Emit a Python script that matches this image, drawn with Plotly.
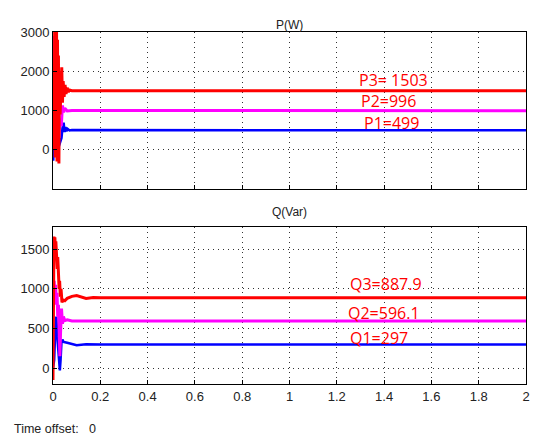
import plotly.graph_objects as go

# ---- data ----
t_p3 = [0, 0.003, 0.005, 0.007, 0.009, 0.011, 0.013, 0.015, 0.017, 0.019, 0.021, 0.023, 0.025,
        0.027, 0.030, 0.033, 0.037, 0.040, 0.043, 0.047, 0.051, 0.055, 0.060, 0.065, 0.070, 0.080, 2.0]
p3 = [0, 2000, 0, 3000, -200, 3000, 600, 3000, -300, 2800, 300, 2400, -350, 2000, 900,
      1800, 2100, 1200, 1750, 1350, 1650, 1420, 1580, 1470, 1520, 1503, 1503]

t_p2 = [0, 0.002, 0.004, 0.006, 0.009, 0.012, 0.016, 0.020, 0.025, 0.030, 0.035, 0.040,
        0.045, 0.050, 0.060, 0.080, 2.0]
p2 = [0, 2900, 1500, 2800, 0, 1200, 400, 1000, 300, 800, 600, 1130, 950, 1060, 990, 1000, 996]

t_p1 = [0, 0.001, 0.003, 0.006, 0.010, 0.020, 0.030, 0.036, 0.040, 0.045, 0.049, 0.053,
        0.057, 0.062, 0.070, 0.080, 2.0]
p1 = [0, -280, 0, 0, 50, 0, 200, 300, 550, 690, 450, 580, 470, 530, 490, 500, 499]

t_q3 = [0, 0.004, 0.006, 0.008, 0.010, 0.012, 0.014, 0.016, 0.018, 0.020, 0.022, 0.024,
        0.026, 0.028, 0.031, 0.034, 0.038, 0.042, 0.050, 0.060, 0.080, 0.100, 0.120,
        0.140, 0.170, 0.200, 2.0]
q3 = [-150, 1660, 1550, 1650, 1450, 1600, 1400, 1500, 1250, 1400, 1150, 1250, 1000, 1100,
      900, 1000, 830, 860, 850, 880, 905, 915, 900, 880, 890, 888, 888]

t_q2 = [0.005, 0.008, 0.011, 0.014, 0.017, 0.020, 0.023, 0.026, 0.029, 0.032, 0.036,
        0.040, 0.044, 0.050, 0.060, 0.080, 2.0]
q2 = [1100, 850, 1050, 800, 950, 650, 800, 400, 150, 450, 750, 560, 650, 600, 610, 595, 596]

t_q1 = [0, 0.005, 0.010, 0.014, 0.018, 0.022, 0.026, 0.029, 0.032, 0.036, 0.040,
        0.045, 0.060, 0.100, 0.140, 0.200, 2.0]
q1 = [0, 100, 500, 650, 400, 200, 0, -30, 100, 330, 360, 330, 320, 290, 300, 297, 297]

p_labels = ["P3= 1503", "P2=996", "P1=499"]
p_label_pos = [1770, 1230, 680]
q_labels = ["Q3=887.9", "Q2=596.1", "Q1=297"]
q_label_pos = [1055, 700, 385]

x_ticks = [0, 0.2, 0.4, 0.6, 0.8, 1.0, 1.2, 1.4, 1.6, 1.8, 2.0]
x_tick_text = ["0", "0.2", "0.4", "0.6", "0.8", "1", "1.2", "1.4", "1.6", "1.8", "2"]
p_ticks = [0, 1000, 2000, 3000]
q_ticks = [0, 500, 1000, 1500]

BLUE, MAG, RED = "#0000ff", "#ff00ff", "#ff0000"

fig = go.Figure()
for tx, ty, c, w, xa, ya in [
    (t_p1, p1, BLUE, 2.5, "x", "y"),
    (t_p2, p2, MAG, 3, "x", "y"),
    (t_p3, p3, RED, 3, "x", "y"),
    (t_q1, q1, BLUE, 2.5, "x2", "y2"),
    (t_q2, q2, MAG, 3, "x2", "y2"),
    (t_q3, q3, RED, 3, "x2", "y2"),
]:
    fig.add_trace(go.Scatter(x=tx, y=ty, mode="lines", line=dict(color=c, width=w),
                             xaxis=xa, yaxis=ya, showlegend=False, hoverinfo="skip"))

tick_font = dict(family="Liberation Sans, Arial, sans-serif", size=13, color="#222")
common_x = dict(range=[0, 2], tickvals=x_ticks, ticktext=x_tick_text, showline=True,
                linecolor="black", linewidth=1, mirror=True, ticks="inside", ticklen=4,
                tickcolor="black", showgrid=True, gridcolor="#333", griddash="1px,4px",
                gridwidth=1, zeroline=False, tickfont=tick_font, ticklabeloverflow="allow")
common_y = dict(showline=True, linecolor="black", linewidth=1, mirror=True, ticks="inside",
                ticklen=4, tickcolor="black", showgrid=True, gridcolor="#333",
                griddash="1px,4px", gridwidth=1, zeroline=False, tickfont=tick_font)

fig.update_layout(
    width=533, height=437,
    margin=dict(l=53, r=3, t=32, b=53),
    paper_bgcolor="white", plot_bgcolor="white",
    xaxis=dict(common_x, domain=[0, 1], anchor="y", showticklabels=False),
    yaxis=dict(common_y, domain=[0.554, 1], range=[-1000, 3000], tickvals=p_ticks, anchor="x"),
    xaxis2=dict(common_x, domain=[0, 1], anchor="y2"),
    yaxis2=dict(common_y, domain=[0, 0.446], range=[-200, 1780], tickvals=q_ticks, anchor="x2"),
)

ann_font = dict(family="Open Sans, Noto Sans, sans-serif", size=16, color=RED)
p_label_x = [1.44, 1.42, 1.43]
q_label_x = [1.41, 1.40, 1.38]
for txt, yv, xv in zip(p_labels, p_label_pos, p_label_x):
    fig.add_annotation(x=xv, y=yv, xref="x", yref="y", text=txt, showarrow=False, font=ann_font)
for txt, yv, xv in zip(q_labels, q_label_pos, q_label_x):
    fig.add_annotation(x=xv, y=yv, xref="x2", yref="y2", text=txt, showarrow=False, font=ann_font)

title_font = dict(family="Liberation Sans, Arial, sans-serif", size=12, color="#222")
fig.add_annotation(x=0.5, y=1, xref="paper", yref="paper", yshift=16, text="P(W)",
                   showarrow=False, font=title_font)
fig.add_annotation(x=0.5, y=0.446, xref="paper", yref="paper", yshift=15, text="Q(Var)",
                   showarrow=False, font=title_font)
fig.add_annotation(x=-53 / 477 + 12 / 477, y=-(429 - 384) / 352, xref="paper", yref="paper",
                   xanchor="left", yanchor="middle", text="Time offset:   0", showarrow=False,
                   font=dict(family="Liberation Sans, Arial, sans-serif", size=12.5, color="#222"))

fig.write_html("out.html")
